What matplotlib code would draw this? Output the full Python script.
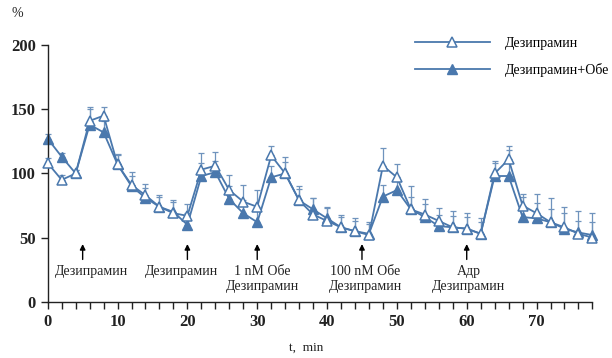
import matplotlib
matplotlib.use("Agg")
import matplotlib.pyplot as plt
import numpy as np

plt.rcParams['font.family'] = ['Liberation Serif', 'DejaVu Serif']

t = [0, 2, 4, 6, 8, 10, 12, 14, 16, 18, 20, 22, 24, 26, 28, 30, 32, 34, 36, 38,
     40, 42, 44, 46, 48, 50, 52, 54, 56, 58, 60, 62, 64, 66, 68, 70, 72, 74, 76, 78]
desip = [108, 95, 100, 141, 145, 107, 91, 83, 74, 69, 67, 103, 106, 87, 78, 74, 114, 100, 79, 68,
         63, 58, 55, 52, 106, 97, 72, 68, 63, 58, 57, 53, 100, 111, 75, 69, 62, 58, 53, 50]
desip_err = [4, 4, 3, 11, 7, 8, 10, 9, 9, 10, 9, 13, 11, 12, 13, 13, 7, 13, 11, 13,
             11, 10, 10, 10, 14, 10, 18, 12, 10, 13, 12, 12, 10, 10, 9, 15, 19, 16, 18, 19]
desip_obe = [127, 113, 100, 138, 132, 107, 90, 81, 74, 70, 60, 98, 101, 80, 69, 62, 97, 100, 79, 72,
             65, 58, 55, 53, 82, 87, 72, 66, 59, 58, 57, 53, 98, 98, 66, 65, 62, 57, 54, 52]
obe_err = [4, 3, 3, 12, 9, 7, 8, 8, 8, 8, 9, 10, 9, 10, 10, 10, 9, 9, 9, 9,
           8, 8, 8, 8, 9, 9, 10, 10, 9, 9, 9, 9, 10, 20, 16, 12, 10, 12, 9, 10]

arrow_t = [5, 20, 30, 45, 60]
labels = ["Дезипрамин", "Дезипрамин", "1 nM Обе\nДезипрамин", "100 nM Обе\nДезипрамин", "Адр\nДезипрамин"]
label_x = [6.3, 19.2, 30.7, 45.5, 60.3]
legend_labels = ["Дезипрамин", "Дезипрамин+Обе"]

blue = '#4a78ad'
ebc = '#6f93bd'

fig = plt.figure(figsize=(6.12, 3.58), dpi=100)
ax = fig.add_axes([0.078, 0.157, 0.89, 0.717])

for y, e in [(desip, desip_err), (desip_obe, obe_err)]:
    _, caps, bars = ax.errorbar(t, y, yerr=[np.zeros(len(t)), e], fmt='none', ecolor=ebc,
                                elinewidth=0.9, capsize=2.2, capthick=0.9, zorder=1)
    for c in caps:
        c.set_clip_on(False)
    for b in bars:
        b.set_clip_on(False)
l1, = ax.plot(t, desip, color=blue, lw=1.3, marker='^', markersize=7,
              markerfacecolor='white', markeredgecolor=blue, markeredgewidth=1.1, zorder=3,
              clip_on=False)
l2, = ax.plot(t, desip_obe, color=blue, lw=1.3, marker='^', markersize=7,
              markerfacecolor=blue, markeredgecolor=blue, zorder=2, clip_on=False)

ax.set_xlim(0, 78)
ax.set_ylim(0, 200)
ax.set_xticks(np.arange(0, 79, 10))
ax.set_xticks(np.arange(0, 79, 2), minor=True)
ax.set_yticks([0, 50, 100, 150, 200])
ax.spines['top'].set_visible(False)
ax.spines['right'].set_visible(False)
for s in ['left', 'bottom']:
    ax.spines[s].set_color('#222222')
    ax.spines[s].set_linewidth(1.0)
ax.tick_params(axis='both', which='major', direction='out', length=5, width=1.0,
               labelsize=12, colors='#222222')
ax.tick_params(axis='x', which='minor', direction='out', length=5, width=1.0, colors='#222222')
for lab in ax.get_xticklabels() + ax.get_yticklabels():
    lab.set_fontweight('bold')

for at, lx, lab in zip(arrow_t, label_x, labels):
    ax.annotate('', xy=(at, 45), xytext=(at, 33),
                arrowprops=dict(arrowstyle='-|>', color='black', lw=1.0,
                                mutation_scale=8, shrinkA=0, shrinkB=0))
    ax.text(lx, 29, lab, ha='center', va='top', fontsize=10, linespacing=1.25, color='#222222')

fig.text(0.018, 0.962, '%', fontsize=10, ha='left', va='center', color='#222222')
fig.text(0.5, 0.028, 't,  min', fontsize=9.5, ha='center', va='center', color='#222222')

leg = ax.legend([l1, l2], legend_labels, loc='upper left', bbox_to_anchor=(0.664, 1.055),
                frameon=False, fontsize=10, handlelength=5.4, handletextpad=1.1,
                labelspacing=0.95, borderaxespad=0)

fig.savefig('out.png', dpi=100)
